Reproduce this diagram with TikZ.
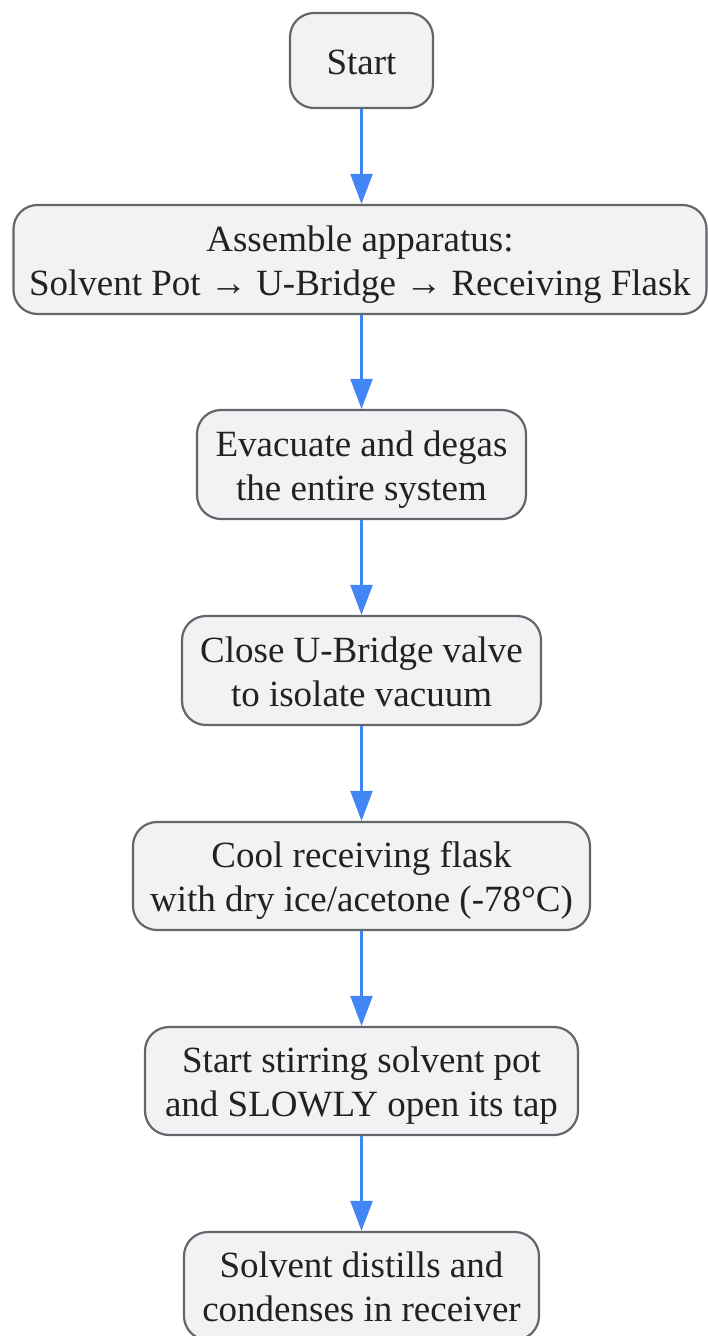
\documentclass[tikz,border=0pt]{standalone}
\usepackage{fontspec}
\setmainfont{Liberation Serif}
\usetikzlibrary{arrows.meta}
\definecolor{boxfill}{HTML}{F1F2F4}
\definecolor{boxline}{HTML}{63666A}
\definecolor{arrowblue}{HTML}{4285F4}
\definecolor{txt}{HTML}{222222}
\begin{document}
\begin{tikzpicture}[x=1pt,y=-1pt,
  stepbox/.style={draw=boxline, line width=2.2pt, fill=boxfill, rounded corners=24pt,
    align=center, inner sep=0pt, text=txt, text height=27pt, text depth=0pt,
    font=\fontsize{37}{44}\selectfont},
  twoline/.style={stepbox, text height=71pt},
  flow/.style={draw=arrowblue, line width=2.2pt, -{Triangle[length=30pt,width=22pt]}}]
\useasboundingbox (0,0) rectangle (707,1336);
\node[stepbox, minimum width=143pt, minimum height=95pt] (n1) at (361.5,60.5) {Start};
\node[twoline, minimum width=693pt, minimum height=109pt] (n2) at (360,259.5) {Assemble apparatus:\\Solvent Pot → U-Bridge → Receiving Flask};
\node[twoline, minimum width=329pt, minimum height=109pt] (n3) at (361.5,464.5) {Evacuate and degas\\the entire system};
\node[twoline, minimum width=359pt, minimum height=109pt] (n4) at (361.5,670.5) {Close U-Bridge valve\\to isolate vacuum};
\node[twoline, minimum width=457pt, minimum height=108pt] (n5) at (361.5,876) {Cool receiving flask\\with dry ice/acetone (-78°C)};
\node[twoline, minimum width=433pt, minimum height=108pt] (n6) at (361.5,1081) {Start stirring solvent pot\\and SLOWLY open its tap};
\node[twoline, minimum width=355pt, minimum height=108pt] (n7) at (361.5,1286) {Solvent distills and\\condenses in receiver};
\draw[flow] (n1.south) -- (n1.south |- n2.north);
\draw[flow] (n1.south |- n2.south) -- (n3.north);
\draw[flow] (n3) -- (n4);
\draw[flow] (n4) -- (n5);
\draw[flow] (n5) -- (n6);
\draw[flow] (n6) -- (n7);
\end{tikzpicture}
\end{document}
